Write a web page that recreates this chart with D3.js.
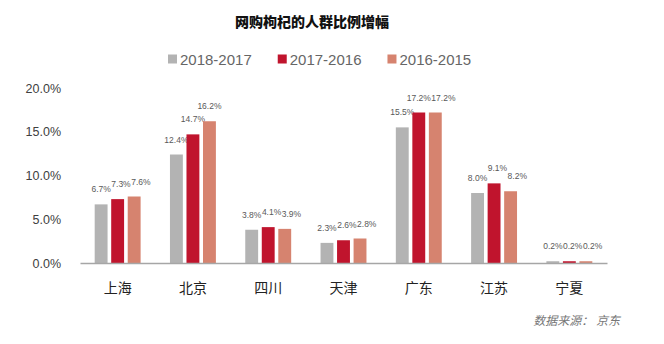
<!DOCTYPE html>
<html><head><meta charset="utf-8">
<script src="https://cdn.jsdelivr.net/npm/d3@7"></script>
<style>
html,body{margin:0;padding:0;background:#fff;}
svg{display:block;}
.num{font-family:"Liberation Sans",Arial,sans-serif;}
.cjk{font-family:"Noto Sans CJK SC","Noto Sans",sans-serif;}
</style>
</head><body>
<script>
const categories = ["上海","北京","四川","天津","广东","江苏","宁夏"];
const seriesNames = ["2018-2017","2017-2016","2016-2015"];
const s2018_2017 = [6.7, 12.4, 3.8, 2.3, 15.5, 8.0, 0.2];
const s2017_2016 = [7.3, 14.7, 4.1, 2.6, 17.2, 9.1, 0.2];
const s2016_2015 = [7.6, 16.2, 3.9, 2.8, 17.2, 8.2, 0.2];
const yTicks = [0, 5, 10, 15, 20];
const colors = ["#b3b3b3", "#c0142d", "#d6836f"];
const title = "网购枸杞的人群比例增幅";
const source = "数据来源： 京东";

const seriesValues = [s2018_2017, s2017_2016, s2016_2015];
const W = 664, H = 344;
const svg = d3.select("body").append("svg").attr("width", W).attr("height", H);

const x0 = d3.scaleBand().domain(categories).range([80, 607]).paddingInner(0.39).paddingOuter(0.195);
const x1 = d3.scaleBand().domain(seriesNames).range([0, x0.bandwidth()]).paddingInner(0.22);
const y = d3.scaleLinear().domain([0, 20]).range([263, 88]);

// title
svg.append("text").attr("class","cjk").attr("x", 312).attr("y", 21)
  .attr("text-anchor","middle").attr("dominant-baseline","central")
  .attr("font-size", 14).attr("font-weight", 900).attr("fill","#111").text(title);

// legend
const leg = svg.append("g");
let lx = 168;
seriesNames.forEach((n, i) => {
  const g = leg.append("g").attr("transform", `translate(${lx},0)`);
  g.append("rect").attr("x",0).attr("y",54.5).attr("width",9).attr("height",9).attr("fill",colors[i]);
  const t = g.append("text").attr("class","num").attr("x",12).attr("y",59)
    .attr("dominant-baseline","central").attr("font-size",15).attr("fill","#666").text(n);
  const w = t.node().getComputedTextLength();
  lx += 12 + w + 26;
});

// y axis labels
const yAxis = d3.axisLeft(y).tickValues(yTicks).tickSize(0).tickPadding(0)
  .tickFormat(d => d.toFixed(1) + "%");
const ya = svg.append("g").attr("transform","translate(61,0)").call(yAxis);
ya.select(".domain").remove();
ya.selectAll("text").attr("class","num").attr("font-size",12.5).attr("fill","#404040");

// bars
const groups = svg.append("g").selectAll("g").data(categories).join("g")
  .attr("transform", d => `translate(${x0(d)},0)`);
groups.each(function(cat, ci) {
  const g = d3.select(this);
  let prev = null;
  seriesNames.forEach((sn, si) => {
    const v = seriesValues[si][ci];
    g.append("rect").attr("x", x1(sn)).attr("width", x1.bandwidth())
      .attr("y", y(v)).attr("height", y(0) - y(v)).attr("fill", colors[si]);
    const ly = y(v) - 15;
    const t = g.append("text").attr("class","num")
      .attr("y", ly).attr("dominant-baseline","central").attr("text-anchor","start")
      .attr("font-size", 8.5).attr("fill","#595959").text(v.toFixed(1) + "%");
    const w = t.node().getComputedTextLength();
    let left = x1(sn) + x1.bandwidth()/2 - w/2;
    if (prev && Math.abs(prev.y - ly) < 10 && left < prev.right + 0.5) left = prev.right + 0.5;
    t.attr("x", left);
    prev = {y: ly, right: left + w};
  });
});

// x axis
const xAxis = d3.axisBottom(x0).tickSize(0).tickPadding(0);
const xa = svg.append("g").attr("transform", `translate(0,${y(0)})`).call(xAxis);
xa.select(".domain").attr("stroke","#a6a6a6").attr("stroke-width",1.5);
xa.selectAll("text").attr("class","cjk").attr("font-size",14).attr("fill","#222")
  .attr("dy", null).attr("y", 24).attr("dominant-baseline","central");

// source
svg.append("text").attr("class","cjk").attr("x", 620).attr("y", 319)
  .attr("text-anchor","end").attr("dominant-baseline","central")
  .attr("font-size", 12).attr("font-style","italic").attr("fill","#777").text(source);
</script>
</body></html>
